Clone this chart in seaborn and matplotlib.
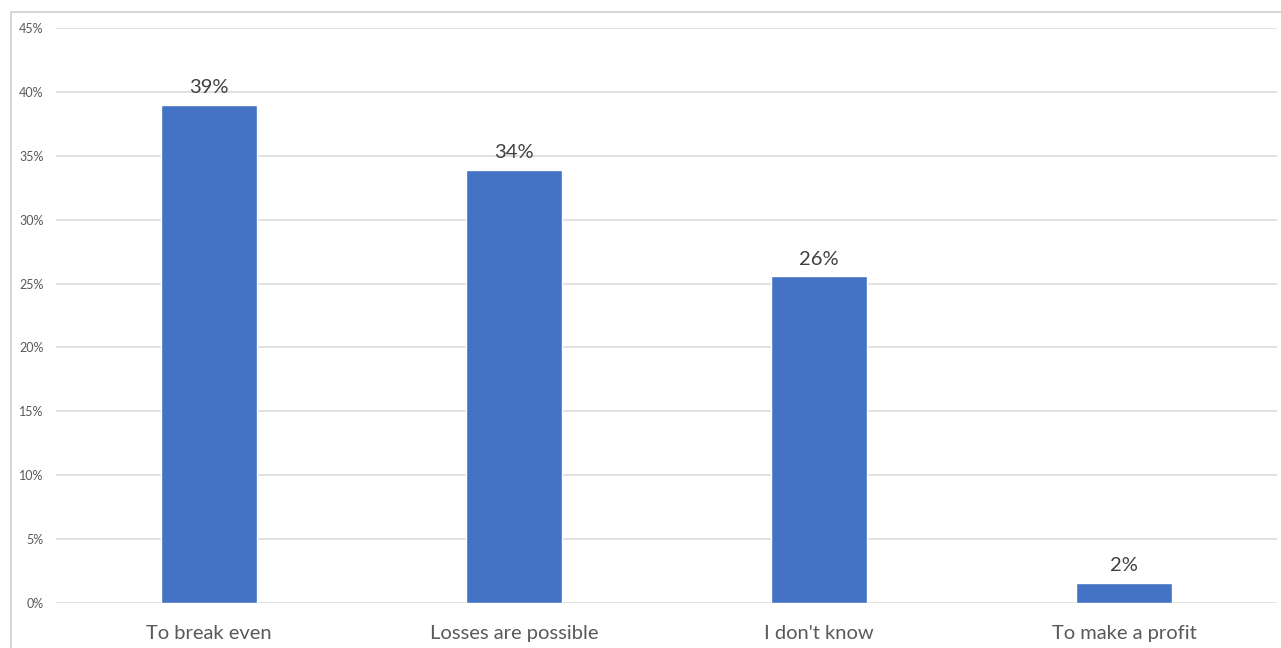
import matplotlib
matplotlib.use("Agg")
import matplotlib.pyplot as plt
import seaborn as sns
import pandas as pd
from matplotlib.patches import Rectangle

categories = ["To break even", "Losses are possible", "I don't know", "To make a profit"]
values = [39.0, 33.9, 25.6, 1.6]
value_labels = ["39%", "34%", "26%", "2%"]
yticks = [0, 5, 10, 15, 20, 25, 30, 35, 40, 45]
ytick_labels = [f"{t}%" for t in yticks]

sns.set_theme(style="white")
plt.rcParams["font.family"] = ["Lato", "DejaVu Sans"]

df = pd.DataFrame({"cat": categories, "val": values})

fig = plt.figure(figsize=(12.81, 6.48), dpi=100)
ax = fig.add_axes([56/1281, 45/648, (1277-56)/1281, (603-28)/648])

sns.barplot(data=df, x="cat", y="val", color="#4472C4", width=0.315,
            saturation=1, ax=ax, zorder=3)

ax.set_ylim(0, 45)
ax.set_yticks(yticks)
ax.set_yticklabels(ytick_labels, fontsize=9, color="#595959")
ax.yaxis.grid(True, color="#d9d9d9", linewidth=1.1, zorder=0)
ax.set_axisbelow(True)
ax.set_xlim(-0.5, len(categories) - 0.5)
ax.tick_params(axis="y", length=0, pad=9)
ax.tick_params(axis="x", length=0, pad=16)
for lab in ax.get_xticklabels():
    lab.set_fontsize(14.5)
    lab.set_color("#595959")
ax.set_xlabel("")
ax.set_ylabel("")
for s in ax.spines.values():
    s.set_visible(False)

for i, (v, t) in enumerate(zip(values, value_labels)):
    ax.annotate(t, (i, v), xytext=(0, 6), textcoords="offset points",
                ha="center", va="bottom", fontsize=14.5, color="#404040")

fig.patches.append(Rectangle((11/1281, -0.1), 1.2, (648-12)/648 + 0.1,
                             transform=fig.transFigure, fill=False,
                             edgecolor="#d0d0d0", linewidth=1.2, zorder=0))

fig.savefig("out.png", dpi=100)
